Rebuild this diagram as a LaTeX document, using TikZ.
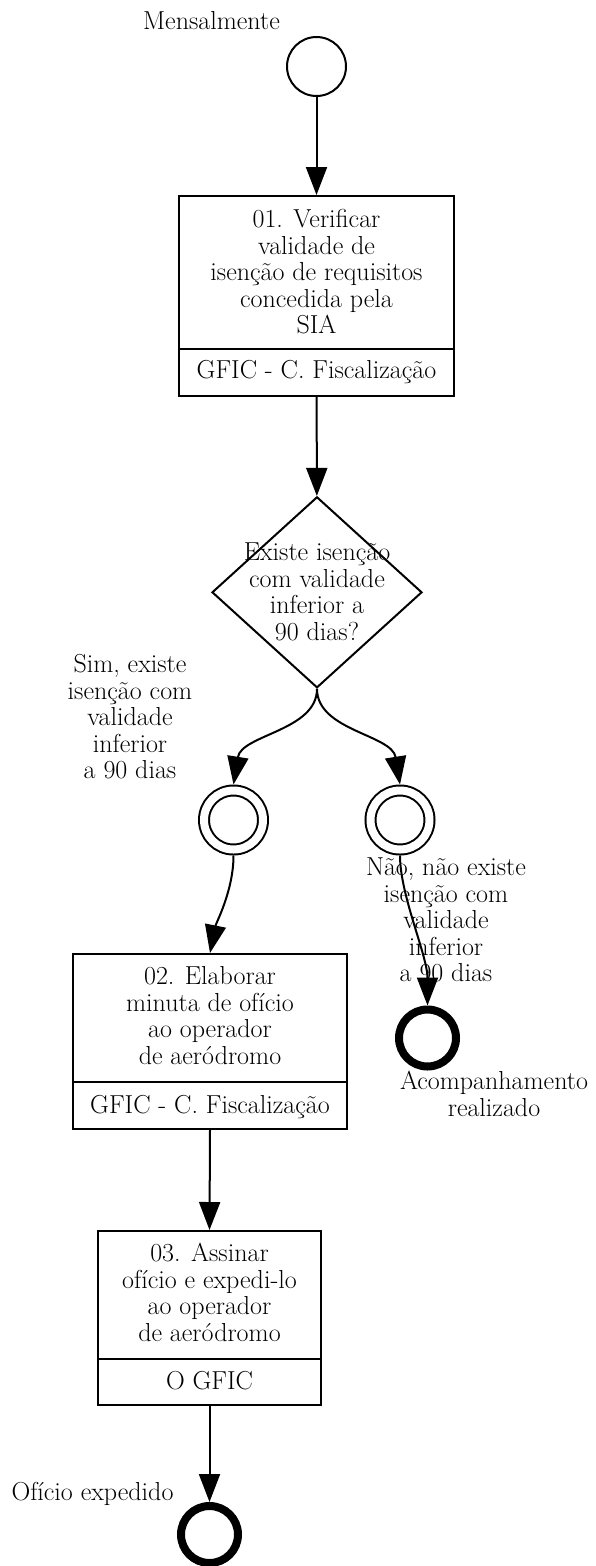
\documentclass[tikz,border=0pt]{standalone}
\usepackage{fontspec}
\usetikzlibrary{shapes.geometric,arrows.meta}
\begin{document}
\begin{tikzpicture}[x=1pt,y=-1pt,
  txt/.style={font=\fontsize{26}{26.5}\selectfont, align=center, inner sep=0},
  flow/.style={line width=2pt, -{Triangle[length=28pt,width=21pt]}},
  task/.style={draw, line width=2pt, rectangle, inner sep=0},
  startev/.style={draw, circle, line width=2pt, minimum size=59pt, inner sep=0},
  interev/.style={draw, circle, line width=2pt, double, double distance=8pt, minimum size=59pt, inner sep=0, outer sep=6pt},
  endev/.style={draw, circle, line width=8pt, minimum size=57pt, inner sep=0},
  gateway/.style={draw, diamond, line width=2pt, minimum width=210pt, minimum height=191pt, inner sep=0},
  divider/.style={line width=2pt}
]
\useasboundingbox (0,0) rectangle (595,1566);

% start event
\node[startev] (start) at (316.5,66.5) {};
\node[txt] (startlbl) at (211.5,21) {Mensalmente};

% task 1
\node[task, minimum width=275pt, minimum height=200pt] (t1) at (316.5,296) {};
\node[txt] (t1txt) at (316.5,272) {01. Verificar\\validade de\\isenção de requisitos\\concedida pela\\SIA};
\draw[divider] (t1.west |- 0,349) -- (t1.east |- 0,349);
\node[txt] (t1role) at (316.5,372.5) {GFIC - C. Fiscalização};

% gateway
\node[gateway] (gw) at (317,592.3) {};
\node[txt] (gwtxt) at (317,592) {Existe isenção\\com validade\\inferior a\\90 dias?};

% intermediate events
\node[interev] (i1) at (233.5,820) {};
\node[interev] (i2) at (400,820) {};
\node[txt] (simlbl) at (130,717) {Sim, existe\\isenção com\\validade\\inferior\\a 90 dias};
\node[txt] (naolbl) at (446,920) {Não, não existe\\isenção com\\validade\\inferior\\a 90 dias};

% end event 1
\node[endev] (e1) at (427.5,1038) {};
\node[txt] (e1lbl) at (494,1094) {Acompanhamento\\realizado};

% task 2
\node[task, minimum width=274pt, minimum height=175pt] (t2) at (210,1041.5) {};
\node[txt] (t2txt) at (210,1015.7) {02. Elaborar\\minuta de ofício\\ao operador\\de aeródromo};
\draw[divider] (t2.west |- 0,1082) -- (t2.east |- 0,1082);
\node[txt] (t2role) at (210,1106.5) {GFIC - C. Fiscalização};

% task 3
\node[task, minimum width=223pt, minimum height=174pt] (t3) at (209.5,1318) {};
\node[txt] (t3txt) at (209.5,1292.4) {03. Assinar\\ofício e expedi-lo\\ao operador\\de aeródromo};
\draw[divider] (t3.west |- 0,1359) -- (t3.east |- 0,1359);
\node[txt] (t3role) at (209.5,1381) {O GFIC};

% end event 2
\node[endev] (e2) at (209.5,1534.5) {};
\node[txt] (e2lbl) at (92.5,1493.5) {Ofício expedido};

% flows
\draw[flow] (start) -- (t1);
\draw[flow] (t1) -- (gw);
\draw[flow] (gw.south) .. controls +(0,42) and +(8,-50) .. (i1.north);
\draw[flow] (gw.south) .. controls +(0,42) and +(-8,-50) .. (i2.north);
\draw[flow] (i1.south) .. controls +(0,35) and +(6,-30) .. (t2.north);
\draw[flow] (i2.south) .. controls +(0,40) and +(0,-50) .. (e1.north);
\draw[flow] (t2.south) -- (t3.north);
\draw[flow] (t3.south) -- (e2.north);
\end{tikzpicture}
\end{document}
